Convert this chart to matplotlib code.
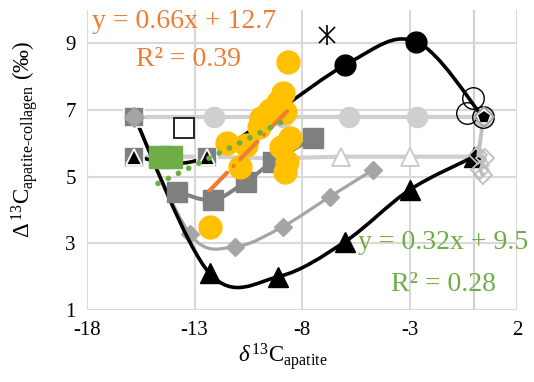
import numpy as np
import matplotlib
matplotlib.use("Agg")
import matplotlib.pyplot as plt
from matplotlib.path import Path
from matplotlib.patches import PathPatch

plt.rcParams['font.family'] = ['Liberation Serif', 'DejaVu Serif']
plt.rcParams['mathtext.fontset'] = 'custom'
plt.rcParams['mathtext.rm'] = 'Liberation Serif'
plt.rcParams['mathtext.it'] = 'Liberation Serif:italic'
plt.rcParams['axes.unicode_minus'] = False

# --- data ---
# black filled circles (smoothed line)
blk_circ_x = [-15.8, -12.4, -6.0, -2.7, 0.4]
blk_circ_y = [5.6, 5.6, 8.35, 9.05, 6.8]

# black filled triangles (smoothed line)
blk_tri_x = [-15.8, -12.3, -9.1, -6.0, -3.0, 0.0]
blk_tri_y = [6.8, 2.1, 2.0, 3.05, 4.6, 5.6]

# grey diamonds (smoothed line)
gry_dia_x = [-15.8, -13.2, -11.1, -8.9, -6.7, -4.7]
gry_dia_y = [6.8, 3.27, 2.9, 3.5, 4.4, 5.2]

# dark grey squares
dk_sq_x = [-13.8, -12.15, -10.6, -9.35, -7.5]
dk_sq_y = [4.55, 4.3, 4.85, 5.45, 6.15]

# light grey circles, flat line
lt_circ_x = [-15.8, -12.1, -8.9, -5.8, -2.65, 0.4]
lt_circ_y = [6.8, 6.8, 6.8, 6.8, 6.8, 6.8]

# open triangles, flat line
op_tri_x = [-15.8, -12.4, -9.3, -6.2, -3.0, 0.3]
op_tri_y = [5.6, 5.6, 5.55, 5.6, 5.6, 5.6]

# open diamonds near zero
op_dia_x = [0.45, 0.2, 0.5, 0.3, 0.4]
op_dia_y = [6.8, 5.65, 5.55, 5.2, 5.05]

# black open circles
op_circ_x = [-0.05, -0.33, 0.42]
op_circ_y = [7.37, 6.9, 6.8]

# single points
op_sq_x, op_sq_y = [-13.5], [6.47]
star_x, star_y = [-6.85], [9.25]

# stacked start points
stack_x = [-15.8, -15.8, -12.4]
stack_y = [6.8, 5.6, 5.6]

# yellow circles
yel_x = [-8.65, -8.9, -9.1, -9.5, -9.9, -10.0, -9.6, -8.8, -11.5, -10.6,
         -10.9, -9.0, -8.55, -8.7, -8.8, -12.3]
yel_y = [8.45, 7.5, 7.25, 7.0, 6.75, 6.5, 6.9, 6.95, 6.0, 5.95,
         5.3, 5.9, 6.15, 5.45, 5.15, 3.5]

# green squares
grn_x = [-14.6, -14.1]
grn_y = [5.6, 5.6]

# trendlines
orange_fit = (0.66, 12.7)
orange_range = [-12.3, -8.7]
green_fit = (0.32, 9.5)
green_range = [-14.7, -8.6]

BLACK = '#000000'
GREY = '#a5a5a5'
DKGREY = '#7f7f7f'
LTGREY = '#d0cece'
YELLOW = '#ffc000'
ORANGE = '#ed7d31'
GREEN = '#70ad47'


def smooth(ax, xs, ys, color, lw, z):
    # excel-style smoothed line drawn as bezier path
    pts = np.column_stack([xs, ys]).astype(float)
    n = len(pts)
    verts = [pts[0]]
    codes = [Path.MOVETO]
    for i in range(n - 1):
        p0 = pts[i - 1] if i > 0 else pts[i]
        p1, p2 = pts[i], pts[i + 1]
        p3 = pts[i + 2] if i + 2 < n else pts[i + 1]
        verts += [p1 + (p2 - p0) / 6, p2 - (p3 - p1) / 6, p2]
        codes += [Path.CURVE4] * 3
    ax.add_patch(PathPatch(Path(verts, codes), fill=False, edgecolor=color,
                           lw=lw, capstyle='round', joinstyle='round', zorder=z))


fig = plt.figure(figsize=(5.34, 3.82), dpi=100)
ax = fig.add_axes([87 / 534, 72 / 382, 430 / 534, 300 / 382])

ax.set_xlim(-18, 2)
ax.set_ylim(1, 10)
ax.set_xticks([-18, -13, -8, -3, 2])
ax.set_yticks([1, 3, 5, 7, 9])
ax.grid(True, color='#d9d9d9', lw=1.5, zorder=0)
ax.axvline(0, color='#d0d0d0', lw=1.5, zorder=0.5)
for s in ax.spines.values():
    s.set_visible(False)
ax.tick_params(length=0, labelsize=15, pad=8)
ax.set_axisbelow(True)

# light grey flat series
ax.plot(lt_circ_x, lt_circ_y, color=LTGREY, lw=3, zorder=1)
ax.plot(lt_circ_x[1:], lt_circ_y[1:], ls='none', marker='o', ms=14.5,
        color=LTGREY, zorder=1.1)
ax.plot(op_tri_x, op_tri_y, color=LTGREY, lw=3, zorder=1)
ax.plot(op_tri_x[2:], op_tri_y[2:], ls='none', marker='^', ms=13,
        mfc='white', mec='#c8c8c8', mew=1.3, zorder=1.1)

# grey diamonds
smooth(ax, gry_dia_x, gry_dia_y, GREY, 2.3, 2)
ax.plot(gry_dia_x[1:], gry_dia_y[1:], ls='none', marker='D', ms=9,
        color=GREY, zorder=2.1)

# black triangles
smooth(ax, blk_tri_x, blk_tri_y, BLACK, 2.6, 2.5)
ax.plot(blk_tri_x[1:], blk_tri_y[1:], ls='none', marker='^', ms=14.5,
        color=BLACK, zorder=2.6)

# black circles
smooth(ax, blk_circ_x, blk_circ_y, BLACK, 2.6, 3)
ax.plot(blk_circ_x[2:4], blk_circ_y[2:4], ls='none', marker='o', ms=15,
        color=BLACK, zorder=3.1)

# dark grey squares
smooth(ax, dk_sq_x, dk_sq_y, DKGREY, 2.9, 3.5)
ax.plot(dk_sq_x, dk_sq_y, ls='none', marker='s', ms=14.5,
        color=DKGREY, zorder=3.6)

# stacked start markers
ax.plot(stack_x, stack_y, ls='none', marker='s', ms=14.5, mfc=DKGREY,
        mec='white', mew=1.2, zorder=4)
ax.plot(stack_x[1:], stack_y[1:], ls='none', marker='^', ms=12, mfc=BLACK,
        mec='white', mew=1.3, zorder=4.1)
ax.plot(stack_x[:1], stack_y[:1], ls='none', marker='D', ms=10, color=GREY,
        zorder=4.2)

# single markers
ax.plot(op_sq_x, op_sq_y, ls='none', marker='s', ms=14, mfc='white',
        mec='#262626', mew=1.4, zorder=4)
ax.plot(star_x, star_y, ls='none', marker='|', ms=15, mec=BLACK, mew=1.2,
        zorder=4)
ax.plot(star_x, star_y, ls='none', marker='x', ms=12, mec=BLACK, mew=1.2,
        zorder=4)

# right hand cluster
ax.plot(op_dia_x, op_dia_y, color='#bfbfbf', lw=2.8, zorder=4)
ax.plot(op_dia_x[1:], op_dia_y[1:], ls='none', marker='D', ms=9,
        mfc='none', mec='#bfbfbf', mew=1.3, zorder=4.1)
ax.plot(op_circ_x, op_circ_y, ls='none', marker='o', ms=15.5, mfc='none',
        mec=BLACK, mew=1.0, zorder=4.3)
ax.plot(op_dia_x[:1], op_dia_y[:1], ls='none', marker='p', ms=10,
        mfc=BLACK, mec='white', mew=1.2, zorder=4.4)
ax.plot(op_dia_x[:1], op_dia_y[:1], ls='none', marker='D', ms=10,
        mfc='none', mec=GREY, mew=1.3, zorder=4.5)

# yellow and green
ax.plot(yel_x, yel_y, ls='none', marker='o', ms=16.5, color=YELLOW,
        zorder=5)
ax.plot(grn_x, grn_y, ls='none', marker='s', ms=16.5, color=GREEN,
        zorder=5.1)

# trendlines
ox = np.array(orange_range)
ax.plot(ox, orange_fit[0] * ox + orange_fit[1], color=ORANGE, lw=3,
        ls=(0, (6, 2.2, 0.1, 2.2)), solid_capstyle='round',
        dash_capstyle='round', zorder=6)
gx = np.array(green_range)
ax.plot(gx, green_fit[0] * gx + green_fit[1], color=GREEN, lw=4,
        ls=(0, (0.05, 2.0)), dash_capstyle='round', zorder=6)

# equations
ax.text(-13.49, 9.64, 'y = 0.66x + 12.7', color=ORANGE, fontsize=20,
        ha='center', va='center', zorder=7)
ax.text(-13.3, 8.5, 'R² = 0.39', color=ORANGE, fontsize=20,
        ha='center', va='center', zorder=7)
ax.text(-1.44, 3.03, 'y = 0.32x + 9.5', color=GREEN, fontsize=20,
        ha='center', va='center', zorder=7)
ax.text(-1.4, 1.77, 'R² = 0.28', color=GREEN, fontsize=20,
        ha='center', va='center', zorder=7)

# axis titles
fig.text(25 / 534, 1 - 139 / 382,
         '$\\Delta\\,^{13}\\mathrm{C}_{\\mathrm{apatite\u2010collagen}}$ (‰)',
         rotation=90, ha='center', va='center', fontsize=16.5)
fig.text(283 / 534, 1 - 356 / 382,
         '$\\mathit{\\delta}\\,^{13}\\mathrm{C}_{\\mathrm{apatite}}$',
         ha='center', va='center', fontsize=16.5)

fig.savefig('out.png', dpi=100)
